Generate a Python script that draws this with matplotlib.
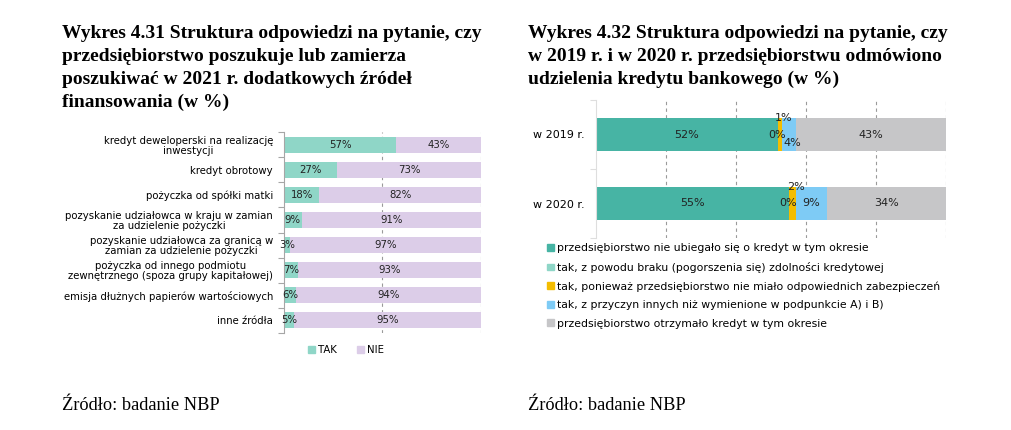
import numpy as np
import matplotlib
matplotlib.use('Agg')
import matplotlib.pyplot as plt
from matplotlib.patches import Patch

plt.rcParams['font.family'] = ['DejaVu Sans']

# Wykres 4.31 - dane
sources = ['kredyt deweloperski na realizację\ninwestycji',
           'kredyt obrotowy',
           'pożyczka od spółki matki',
           'pozyskanie udziałowca w kraju w zamian\nza udzielenie pożyczki',
           'pozyskanie udziałowca za granicą w\nzamian za udzielenie pożyczki',
           'pożyczka od innego podmiotu\nzewnętrznego (spoza grupy kapitałowej)',
           'emisja dłużnych papierów wartościowych',
           'inne źródła']
tak = [57, 27, 18, 9, 3, 7, 6, 5]
nie = [43, 73, 82, 91, 97, 93, 94, 95]

# Wykres 4.32 - dane
years = ['w 2019 r.', 'w 2020 r.']
series_names = ['przedsiębiorstwo nie ubiegało się o kredyt w tym okresie',
                'tak, z powodu braku (pogorszenia się) zdolności kredytowej',
                'tak, ponieważ przedsiębiorstwo nie miało odpowiednich zabezpieczeń',
                'tak, z przyczyn innych niż wymienione w podpunkcie A) i B)',
                'przedsiębiorstwo otrzymało kredyt w tym okresie']
nie_ubiegalo = [52, 55]
brak_zdolnosci = [0, 0]
brak_zabezpieczen = [1, 2]
inne_przyczyny = [4, 9]
otrzymalo = [43, 34]

c_teal = '#47b4a4'
c_lteal = '#8fd6c7'
c_orange = '#f4bd00'
c_blue = '#7ecbf5'
c_gray = '#c6c6c8'
c_lav = '#dccde8'

fs_left = 7.3
fs_right = 8.0

W, H = 1012, 430
fig = plt.figure(figsize=(W / 100, H / 100), dpi=100)


def px(x0, y0, x1, y1):
    return [x0 / W, 1 - y1 / H, (x1 - x0) / W, (y1 - y0) / H]


def style_axes(ax, n, grid_x, spine_col, fs):
    for s in ['top', 'right', 'bottom']:
        ax.spines[s].set_visible(False)
    ax.spines['left'].set_color(spine_col)
    ax.spines['left'].set_linewidth(0.8)
    ax.set_xlim(0, 100)
    ax.set_ylim(n - 0.5, -0.5)
    ax.set_xticks(grid_x)
    ax.tick_params(axis='x', length=0, labelbottom=False)
    ax.grid(axis='x', color='#9a9a9a', linestyle=(0, (3, 3)), linewidth=0.8)
    ax.set_axisbelow(True)
    ax.set_yticks(np.arange(n + 1) - 0.5, minor=True)
    ax.tick_params(axis='y', which='minor', length=4, color=spine_col, width=0.8)
    ax.tick_params(axis='y', which='major', length=0, pad=8, labelsize=fs)


# ---- lewy wykres
ax1 = fig.add_axes(px(284, 132, 481, 333))
y1 = np.arange(len(sources))
b_tak = ax1.barh(y1, tak, height=0.64, color=c_lteal, label='TAK')
b_nie = ax1.barh(y1, nie, left=tak, height=0.64, color=c_lav, label='NIE')
style_axes(ax1, len(sources), [50, 100], '#a6a6a6', fs_left)
ax1.set_yticks(y1)
ax1.set_yticklabels(sources, linespacing=1.0, multialignment='center')
for bars in (b_tak, b_nie):
    ax1.bar_label(bars, labels=[f'{v:.0f}%' for v in bars.datavalues],
                  label_type='center', fontsize=fs_left, color='#222222')

fig.legend(handles=[Patch(color=c_lteal), Patch(color=c_lav)], labels=['TAK', 'NIE'],
           loc='center', bbox_to_anchor=(346 / W, 1 - 350 / H), ncol=2, frameon=False,
           fontsize=fs_left, handlelength=0.7, handleheight=0.7, handletextpad=0.3,
           columnspacing=2.0)

# ---- prawy wykres
ax2 = fig.add_axes(px(596, 100, 946, 238))
y2 = np.arange(len(years))
series = [nie_ubiegalo, brak_zdolnosci, brak_zabezpieczen, inne_przyczyny, otrzymalo]
colors = [c_teal, c_lteal, c_orange, c_blue, c_gray]
bar_h = 0.49
# przesuniecia etykiet (x w %, y w jednostkach osi) dla malych segmentow
label_shift = {1: [(-0.3, 0), (0, 0)],
               2: [(1, -bar_h / 2), (1, -bar_h / 2)],
               3: [(1.2, 0.12), (0, 0)]}
left = np.zeros(len(years))
for i, (vals, col) in enumerate(zip(series, colors)):
    ax2.barh(y2, vals, left=left, height=bar_h, color=col)
    for j, v in enumerate(vals):
        dx, dy = label_shift.get(i, [(0, 0)] * len(years))[j]
        ax2.text(left[j] + v / 2 + dx, y2[j] + dy, f'{v}%', ha='center', va='center',
                 fontsize=fs_right, color='#222222')
    left += np.array(vals)
style_axes(ax2, len(years), [20, 40, 60, 80, 100], '#dedede', fs_right)
ax2.set_yticks(y2)
ax2.set_yticklabels(years)

fig.legend(handles=[Patch(color=c) for c in colors], labels=series_names,
           loc='upper left', bbox_to_anchor=(543 / W, 1 - 239 / H), ncol=1, frameon=False,
           fontsize=7.8, handlelength=0.6, handleheight=0.6, handletextpad=0.3,
           labelspacing=0.78, borderaxespad=0)

# ---- tytuly i zrodla
title_kw = dict(fontsize=14, fontweight='bold', family=['Liberation Serif', 'DejaVu Serif'],
                va='top', ha='left', linespacing=1.45)
fig.text(62 / W, 1 - 25 / H,
         'Wykres 4.31 Struktura odpowiedzi na pytanie, czy\n'
         'przedsiębiorstwo poszukuje lub zamierza\n'
         'poszukiwać w 2021 r. dodatkowych źródeł\n'
         'finansowania (w %)', **title_kw)
fig.text(528 / W, 1 - 25 / H,
         'Wykres 4.32 Struktura odpowiedzi na pytanie, czy\n'
         'w 2019 r. i w 2020 r. przedsiębiorstwu odmówiono\n'
         'udzielenia kredytu bankowego (w %)', **title_kw)
src_kw = dict(fontsize=13.2, family=['Liberation Serif', 'DejaVu Serif'], va='center', ha='left')
fig.text(62 / W, 1 - 405 / H, 'Źródło: badanie NBP', **src_kw)
fig.text(528 / W, 1 - 405 / H, 'Źródło: badanie NBP', **src_kw)

fig.savefig('out.png', dpi=100)
